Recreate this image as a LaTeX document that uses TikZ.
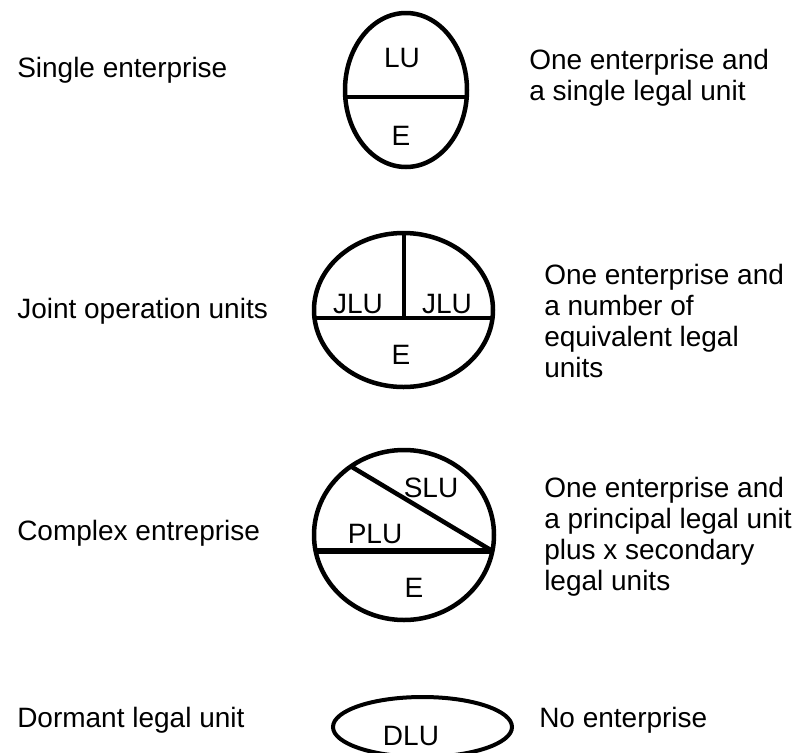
\documentclass[tikz,border=0pt]{standalone}
\usepackage{fontspec}
\setmainfont{Liberation Sans}
\usetikzlibrary{calc, positioning}

\begin{document}
\begin{tikzpicture}[x=1pt, y=-1pt, line width=4.5pt,
  txt/.style={font=\fontsize{28}{31}\selectfont, inner sep=0pt},
  rowlabel/.style={txt, anchor=base west},
  desc/.style={txt, anchor=north west, align=left},
  unit/.style={txt, anchor=base}]

\useasboundingbox (0,0) rectangle (804,753);

% --- left column: kind of unit ---
\node[rowlabel] (single)  at (15,77)  {Single enterprise};
\node[rowlabel] (joint)   at (15,318) {Joint operation units};
\node[rowlabel] (complex) at (15,540) {Complex entreprise};
\node[rowlabel] (dormant) at (15,727) {Dormant legal unit};

% --- single enterprise ---
\draw (406,90) ellipse [x radius=61, y radius=77];
\draw[line width=3.3pt] (345.3,97) -- (466.7,97);
\node[unit] (lu) at (402,67)  {LU};
\node[unit] (e1) at (401,145) {E};

% --- joint operation units ---
\draw (403.5,310) ellipse [x radius=89.5, y radius=77];
\draw[line width=4pt] (314.5,318) -- (492.5,318);
\draw (404,233) -- (404,318);
\node[unit] (jluA) at (358,313) {JLU};
\node[unit] (jluB) at (447,313) {JLU};
\node[unit] (e2)   at (401,364) {E};

% --- complex enterprise ---
\draw (404,535) ellipse [x radius=90, y radius=85];
\draw[line width=5.5pt] (315.6,551) -- (492.4,551);
\draw (352,467) -- (492.4,551);
\node[unit] (slu) at (431,497) {SLU};
\node[unit] (plu) at (375,543) {PLU};
\node[unit] (e3)  at (414,597) {E};

% --- dormant legal unit ---
\draw[line width=4pt] (422.5,727) ellipse [x radius=89.5, y radius=30];
\node[unit] (dlu) at (411,745) {DLU};

% --- right column: description ---
\node[desc] (descSingle)  at (527,46.5)  {One enterprise and\\a single legal unit};
\node[desc] (descJoint)   at (542,261.5) {One enterprise and\\a number of\\equivalent legal\\units};
\node[desc] (descComplex) at (542,474.5) {One enterprise and\\a principal legal unit\\plus x secondary\\legal units};
\node[rowlabel] (descDormant) at (537,727) {No enterprise};

\end{tikzpicture}
\end{document}
